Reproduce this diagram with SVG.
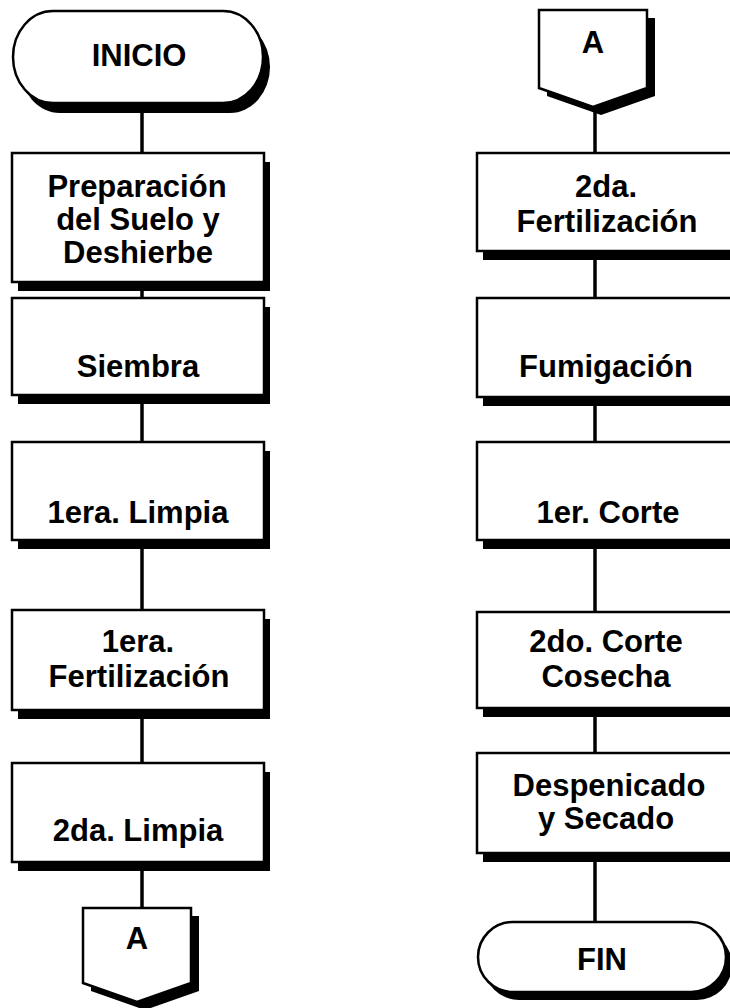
<svg xmlns="http://www.w3.org/2000/svg" width="730" height="1008" viewBox="0 0 730 1008">
<style>
.sh{fill:#000;stroke:none}
.bx{fill:#fff;stroke:#000;stroke-width:2.5}
.t{font-family:"Liberation Sans",Arial,sans-serif;font-weight:bold;font-size:31px;fill:#000;text-anchor:middle}
.cn{stroke:#000;stroke-width:3.5;fill:none}
</style>
<rect width="730" height="1008" fill="#fff"/>
<g id="connectors">
<line class="cn" x1="142" y1="103" x2="142" y2="153"/>
<line class="cn" x1="142" y1="282" x2="142" y2="298"/>
<line class="cn" x1="142" y1="395" x2="142" y2="442"/>
<line class="cn" x1="142" y1="540" x2="142" y2="610"/>
<line class="cn" x1="142" y1="710" x2="142" y2="763"/>
<line class="cn" x1="142" y1="862" x2="142" y2="908"/>
<line class="cn" x1="595" y1="107" x2="595" y2="153"/>
<line class="cn" x1="595" y1="251" x2="595" y2="298"/>
<line class="cn" x1="595" y1="397" x2="595" y2="442"/>
<line class="cn" x1="595" y1="540" x2="595" y2="612"/>
<line class="cn" x1="595" y1="708" x2="595" y2="753"/>
<line class="cn" x1="595" y1="853" x2="595" y2="922"/>
</g>
<g id="inicio">
<rect class="sh" x="20" y="21" width="250" height="92" rx="40" ry="46"/>
<rect class="bx" x="13" y="11" width="250" height="92" rx="40" ry="46"/>
<text class="t" x="139" y="66">INICIO</text>
</g>
<g id="preparacion">
<rect class="sh" x="18" y="162" width="252" height="129"/>
<rect class="bx" x="12" y="153" width="252" height="129"/>
<text class="t" x="137" y="197">Preparación</text>
<text class="t" x="138" y="230">del Suelo y</text>
<text class="t" x="138" y="263">Deshierbe</text>
</g>
<g id="siembra">
<rect class="sh" x="18" y="307" width="252" height="97"/>
<rect class="bx" x="12" y="298" width="252" height="97"/>
<text class="t" x="138" y="377">Siembra</text>
</g>
<g id="limpia1">
<rect class="sh" x="18" y="451" width="252" height="98"/>
<rect class="bx" x="12" y="442" width="252" height="98"/>
<text class="t" x="138" y="523">1era. Limpia</text>
</g>
<g id="fert1">
<rect class="sh" x="18" y="619" width="252" height="100"/>
<rect class="bx" x="12" y="610" width="252" height="100"/>
<text class="t" x="138" y="652">1era.</text>
<text class="t" x="139" y="687">Fertilización</text>
</g>
<g id="limpia2">
<rect class="sh" x="18" y="772" width="252" height="99"/>
<rect class="bx" x="12" y="763" width="252" height="99"/>
<text class="t" x="138" y="841">2da. Limpia</text>
</g>
<g id="offA1">
<polygon class="sh" points="91,916 199,916 199,991 145,1010 91,991"/>
<polygon class="bx" points="83,908 191,908 191,983 137,1002 83,983"/>
<text class="t" x="137" y="949">A</text>
</g>
<g id="offA2">
<polygon class="sh" points="547,18 655,18 655,96 601,115 547,96"/>
<polygon class="bx" points="539,10 647,10 647,88 593,107 539,88"/>
<text class="t" x="593" y="53">A</text>
</g>
<g id="fert2">
<rect class="sh" x="483" y="162" width="262" height="98"/>
<rect class="bx" x="477" y="153" width="262" height="98"/>
<text class="t" x="606" y="197">2da.</text>
<text class="t" x="607" y="232">Fertilización</text>
</g>
<g id="fumigacion">
<rect class="sh" x="483" y="307" width="262" height="99"/>
<rect class="bx" x="477" y="298" width="262" height="99"/>
<text class="t" x="606" y="377">Fumigación</text>
</g>
<g id="corte1">
<rect class="sh" x="483" y="451" width="262" height="98"/>
<rect class="bx" x="477" y="442" width="262" height="98"/>
<text class="t" x="608" y="523">1er. Corte</text>
</g>
<g id="corte2">
<rect class="sh" x="483" y="621" width="262" height="96"/>
<rect class="bx" x="477" y="612" width="262" height="96"/>
<text class="t" x="606" y="652">2do. Corte</text>
<text class="t" x="606" y="687">Cosecha</text>
</g>
<g id="despenicado">
<rect class="sh" x="483" y="762" width="262" height="100"/>
<rect class="bx" x="477" y="753" width="262" height="100"/>
<text class="t" x="609" y="796">Despenicado</text>
<text class="t" x="606" y="829">y Secado</text>
</g>
<g id="fin">
<rect class="sh" x="484" y="930" width="248" height="70" rx="35" ry="35"/>
<rect class="bx" x="478" y="922" width="248" height="70" rx="35" ry="35"/>
<text class="t" x="602" y="970">FIN</text>
</g>
</svg>
